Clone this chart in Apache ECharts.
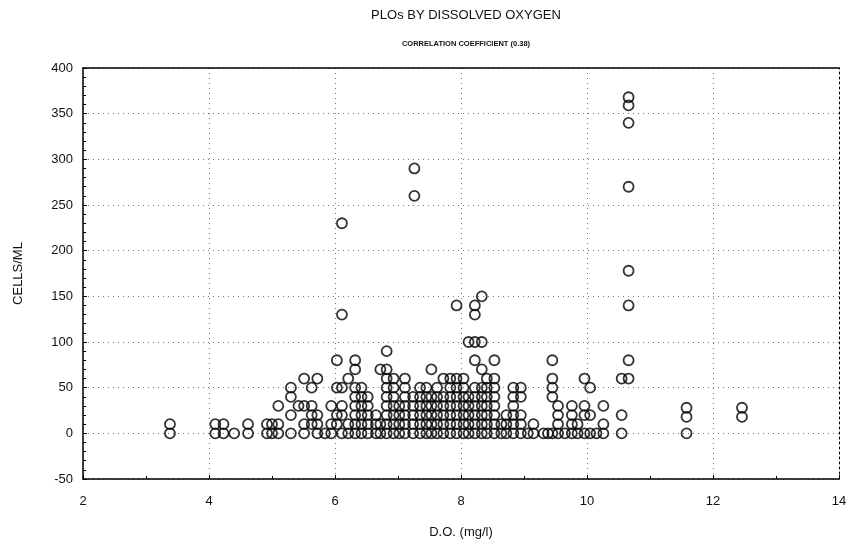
<!DOCTYPE html>
<html>
<head>
<meta charset="utf-8">
<script src="https://cdn.jsdelivr.net/npm/echarts@6/dist/echarts.min.js"></script>
<style>html,body{margin:0;padding:0;background:#fff}#c{width:857px;height:548px}</style>
</head>
<body>
<div id="c"></div>
<script>
// D.O. positions (mg/l) of each stacked column of observations
const colX = [3.38, 4.10, 4.23, 4.40, 4.62, 4.92, 5.00, 5.10, 5.30, 5.42, 5.51, 5.63, 5.72, 5.84, 5.94,
  6.03, 6.11, 6.21, 6.32, 6.42, 6.52, 6.65, 6.72, 6.82, 6.93, 7.02, 7.11, 7.24, 7.26, 7.35, 7.45,
  7.53, 7.62, 7.72, 7.83, 7.93, 8.04, 8.12, 8.22, 8.33, 8.41, 8.53, 8.64, 8.72, 8.83, 8.95, 9.06,
  9.15, 9.31, 9.38, 9.45, 9.54, 9.65, 9.76, 9.85, 9.96, 10.05, 10.15, 10.26, 10.55, 10.66, 11.58, 12.46];
// CELLS/ML values observed in each column
const colY = [
  [0, 10], [0, 10], [0, 10], [0], [0, 10], [0, 10], [0, 10], [0, 10, 30], [0, 20, 40, 50], [30],
  [0, 10, 30, 60], [10, 20, 30, 50], [0, 10, 20, 60], [0], [0, 10, 30],
  [10, 20, 50, 80], [0, 20, 30, 50, 130, 230], [0, 10, 60], [0, 10, 20, 30, 40, 50, 70, 80],
  [0, 10, 20, 30, 40, 50], [0, 10, 20, 30, 40], [0, 10, 20], [0, 10, 70],
  [0, 10, 20, 30, 40, 50, 60, 70, 90], [0, 10, 20, 30, 40, 50, 60], [0, 10, 20, 30],
  [0, 10, 20, 30, 40, 50, 60], [0, 10, 20, 30, 40], [260, 290], [0, 10, 20, 30, 40, 50],
  [0, 10, 20, 30, 40, 50], [0, 10, 20, 30, 40, 70], [0, 10, 20, 30, 40, 50], [0, 10, 20, 30, 40, 60],
  [0, 10, 20, 30, 40, 50, 60], [0, 10, 20, 30, 40, 50, 60, 140], [0, 10, 20, 30, 40, 50, 60],
  [0, 10, 20, 30, 40, 100], [0, 10, 20, 30, 40, 50, 80, 100, 130, 140], [0, 10, 20, 30, 40, 50, 70, 100, 150],
  [0, 10, 20, 30, 40, 50, 60], [0, 10, 20, 30, 40, 50, 60, 80], [0, 10], [0, 10, 20],
  [0, 10, 20, 30, 40, 50], [0, 10, 20, 40, 50], [0],
  [0, 10], [0], [0], [0, 40, 50, 60, 80], [0, 10, 20, 30], [0], [0, 10, 20, 30], [0, 10],
  [0, 20, 30, 60], [0, 20, 50], [0], [0, 10, 30], [0, 20, 60],
  [60, 80, 140, 178, 270, 340, 359, 368], [0, 18, 28], [18, 28]
];
const xTicks = [2, 4, 6, 8, 10, 12, 14];
const yTicks = [-50, 0, 50, 100, 150, 200, 250, 300, 350, 400];

const points = [];
colX.forEach((x, i) => colY[i].forEach(y => points.push([x, y])));

const chart = echarts.init(document.getElementById('c'), null, {renderer: 'canvas'});
const font = 'Liberation Sans, Arial, sans-serif';
const grid = {left: 83, right: 18, top: 68, bottom: 69, show: false};
const split = {show: true, lineStyle: {color: '#777', type: [1, 4], width: 1}};
chart.setOption({
  animation: false,
  title: [
    {text: 'PLOs BY DISSOLVED OXYGEN', left: 461, top: 4, textAlign: 'center',
     textStyle: {fontFamily: font, fontSize: 13, fontWeight: 'normal', color: '#111'}},
    {text: 'CORRELATION COEFFICIENT (0.38)', left: 461, top: 35, textAlign: 'center',
     textStyle: {fontFamily: font, fontSize: 7.5, fontWeight: 'bold', color: '#111'}}
  ],
  grid: grid,
  xAxis: [
    {type: 'value', min: xTicks[0], max: xTicks[xTicks.length - 1], interval: 2,
     name: 'D.O. (mg/l)', nameLocation: 'middle', nameGap: 47,
     nameTextStyle: {fontFamily: font, fontSize: 13, color: '#111'},
     axisLine: {show: true, onZero: false, lineStyle: {color: '#000', width: 1.5}},
     axisTick: {show: true, inside: true, length: 4, lineStyle: {color: '#000'}},
     minorTick: {show: true, splitNumber: 2, length: 3, lineStyle: {color: '#000'}},
     axisLabel: {fontFamily: font, fontSize: 13, color: '#111', margin: 16},
     splitLine: split},
    {type: 'value', position: 'top', min: 2, max: 14, interval: 2,
     axisLine: {show: true, onZero: false, lineStyle: {color: '#000', width: 1.5}},
     axisTick: {show: false}, axisLabel: {show: false}, splitLine: {show: false}}
  ],
  yAxis: [
    {type: 'value', min: yTicks[0], max: yTicks[yTicks.length - 1], interval: 50,
     name: 'CELLS/ML', nameLocation: 'middle', nameGap: 58, nameRotate: 90,
     nameTextStyle: {fontFamily: font, fontSize: 13, color: '#111'},
     axisLine: {show: true, onZero: false, lineStyle: {color: '#000', width: 1.5}},
     axisTick: {show: true, inside: true, length: 4, lineStyle: {color: '#000'}},
     minorTick: {show: true, splitNumber: 5, length: 3, lineStyle: {color: '#000'}},
     axisLabel: {fontFamily: font, fontSize: 13, color: '#111', margin: 10},
     splitLine: split},
    {type: 'value', position: 'right', min: -50, max: 400, interval: 50,
     axisLine: {show: true, onZero: false, lineStyle: {color: '#000', width: 1, type: [2, 3]}},
     axisTick: {show: false}, axisLabel: {show: false}, splitLine: {show: false}}
  ],
  series: [{
    type: 'scatter', xAxisIndex: 0, yAxisIndex: 0,
    data: points, symbol: 'circle', symbolSize: 10,
    itemStyle: {color: 'rgba(255,255,255,0)', borderColor: '#000', borderWidth: 1.8},
    emphasis: {disabled: true}
  }]
});
</script>
</body>
</html>
